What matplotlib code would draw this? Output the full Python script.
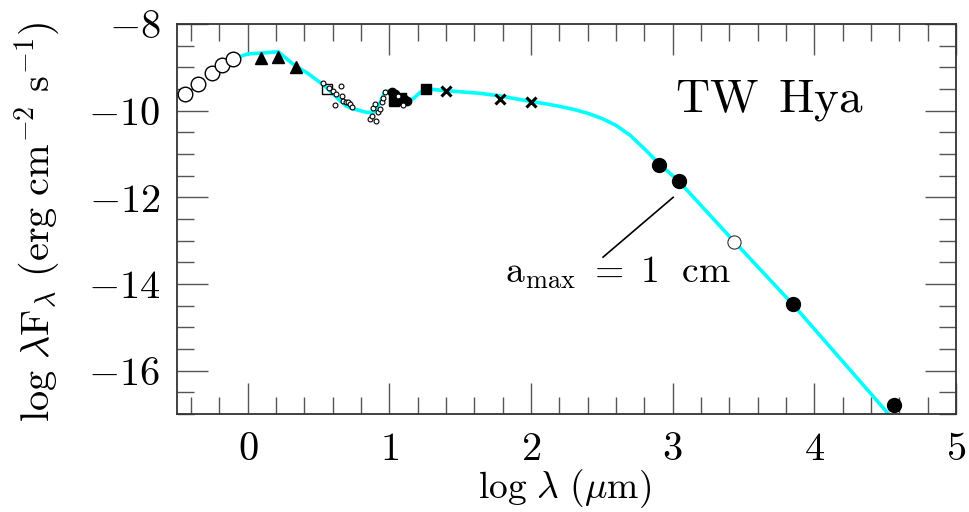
import matplotlib
matplotlib.use("Agg")
import matplotlib.pyplot as plt
from matplotlib.ticker import MultipleLocator, FuncFormatter

plt.rcParams['mathtext.fontset'] = 'cm'
plt.rcParams['font.family'] = 'serif'

# model SED
model_x = [-0.19, -0.1, 0.0, 0.1, 0.215, 0.28, 0.338, 0.42, 0.51, 0.557, 0.604, 0.651,
           0.698, 0.745, 0.84, 0.886, 0.934, 0.969, 1.004, 1.06, 1.11, 1.17, 1.216,
           1.263, 1.405, 1.64, 1.781, 2.0, 2.1, 2.2, 2.3, 2.4, 2.5, 2.6, 2.7, 2.8,
           2.9, 3.043, 3.434, 3.848, 4.524, 4.6]
model_y = [-8.87, -8.80, -8.69, -8.67, -8.64, -8.82, -8.97, -9.13, -9.35, -9.47, -9.62,
           -9.77, -9.90, -9.96, -10.04, -10.04, -9.81, -9.56, -9.54, -9.72, -9.81,
           -9.72, -9.58, -9.50, -9.54, -9.60, -9.66, -9.79, -9.84, -9.90, -9.97,
           -10.06, -10.18, -10.34, -10.57, -10.88, -11.21, -11.63, -13.02, -14.47,
           -17.0, -17.3]

# photometry
circ_x = [-0.444, -0.354, -0.255, -0.184, -0.102]
circ_y = [-9.62, -9.39, -9.14, -8.95, -8.81]
tri_x = [0.091, 0.215, 0.338]
tri_y = [-8.79, -8.77, -9.00]
cross_x = [1.40, 1.781, 2.0]
cross_y = [-9.54, -9.72, -9.81]
sq_x = [1.258]
sq_y = [-9.50]
opensq_x = [0.557]
opensq_y = [-9.49]
blob_sq_x = [1.03, 1.06, 1.08]
blob_sq_y = [-9.77, -9.76, -9.70]
blob_c_x = [1.016, 1.04, 1.10, 1.122]
blob_c_y = [-9.58, -9.62, -9.72, -9.77]
spec_x = [0.533, 0.576, 0.600, 0.623, 0.616, 0.656, 0.663, 0.675, 0.694, 0.71, 0.722,
          0.734, 0.863, 0.875, 0.886, 0.898, 0.905, 0.922, 0.934, 0.946, 0.957, 0.969,
          1.063, 1.098]
spec_y = [-9.37, -9.47, -9.54, -9.62, -9.875, -9.43, -9.66, -9.775, -9.81, -9.80,
          -9.85, -9.905, -10.20, -10.12, -9.93, -9.85, -10.24, -10.04, -9.97, -9.81,
          -9.70, -9.58, -9.66, -9.875]
mm_x = [2.906, 3.043, 3.848, 4.559]
mm_y = [-11.26, -11.63, -14.47, -16.79]
open_mm_x = [3.434]
open_mm_y = [-13.02]

fig = plt.figure(figsize=(9.69, 5.12), dpi=100)
ax = fig.add_axes([177 / 969, 1 - 414 / 512, 779 / 969, 390 / 512])

ax.plot(model_x, model_y, color='#00ffff', lw=2.6, zorder=2)
ax.plot(circ_x, circ_y, 'o', mfc='white', mec='black', ms=10.5, mew=1.0, zorder=3)
ax.plot(tri_x, tri_y, '^', color='black', ms=8, zorder=3)
ax.plot(cross_x, cross_y, 'x', color='black', ms=7, mew=2.2, zorder=3)
ax.plot(sq_x, sq_y, 's', color='black', ms=7, zorder=3)
ax.plot(opensq_x, opensq_y, 's', mfc='none', mec='black', ms=7, mew=1.0, zorder=3)
ax.plot(blob_sq_x, blob_sq_y, 's', color='black', ms=6.5, zorder=3)
ax.plot(blob_c_x, blob_c_y, 'o', color='black', ms=6, zorder=3)
ax.plot(spec_x, spec_y, 'o', mfc='white', mec='black', ms=3.5, mew=0.8, zorder=3)
ax.plot(mm_x, mm_y, 'o', color='black', ms=10, zorder=3)
ax.plot(open_mm_x, open_mm_y, 'o', mfc='white', mec='#333333', ms=9.5, mew=0.8, zorder=3)

ax.plot([2.508, 3.003], [-13.38, -12.0], color='black', lw=1.2)
ax.text(1.816, -13.96, r'$\mathrm{a_{max}\ =\ 1\ \ cm}$', fontsize=27, va='baseline')
ax.text(3.017, -10.03, r'$\mathrm{TW\ \,Hya}$', fontsize=34, va='baseline')

ax.set_xlim(-0.5, 5.0)
ax.set_ylim(-17, -8)
ax.xaxis.set_major_locator(MultipleLocator(1))
ax.xaxis.set_minor_locator(MultipleLocator(0.2))
ax.yaxis.set_major_locator(MultipleLocator(2))
ax.yaxis.set_minor_locator(MultipleLocator(0.5))
fmt = FuncFormatter(lambda v, p: r'$%d$' % round(v))
ax.xaxis.set_major_formatter(fmt)
ax.yaxis.set_major_formatter(fmt)
ax.tick_params(which='both', direction='in', top=True, right=True, color='#555555',
               width=1.0, labelsize=29)
ax.tick_params(which='major', length=22, pad=12)
ax.tick_params(which='minor', length=12)
for s in ax.spines.values():
    s.set_color('#333333')
    s.set_linewidth(1.3)

fig.text(565 / 969, 1 - 489 / 512, r'$\mathrm{log}\ \lambda\ \mathrm{(}\mu\mathrm{m)}$',
         fontsize=27, ha='center', va='center')
fig.text(38 / 969, 1 - 222 / 512,
         r'$\mathrm{log}\ \lambda\mathrm{F}_\lambda\ \mathrm{(erg\ cm^{-2}\ s^{-1})}$',
         fontsize=29, ha='center', va='center', rotation=90)

fig.savefig('out.png', dpi=100)
